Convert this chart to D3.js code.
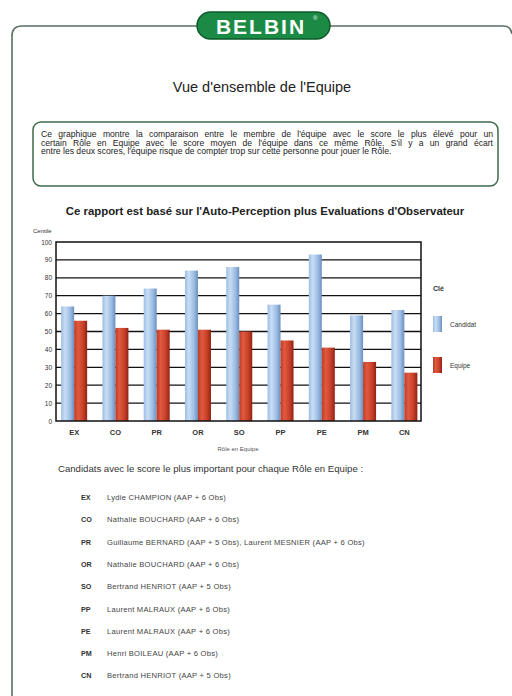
<!DOCTYPE html>
<html lang="fr">
<head>
<meta charset="UTF-8">
<title>Vue d'ensemble de l'Equipe</title>
<style>
  body { margin: 0; background: #fff; }
  svg { display: block; font-family: "Liberation Sans", Arial, sans-serif; }
</style>
</head>
<body>
<script src="https://d3js.org/d3.v7.min.js"></script>
<script>
// données
const roles = ['EX', 'CO', 'PR', 'OR', 'SO', 'PP', 'PE', 'PM', 'CN'];
const candidat = [64, 70, 74, 84, 86, 65, 93, 59, 62];
const equipe = [56, 52, 51, 51, 50, 45, 41, 33, 27];
const yTicks = [0, 10, 20, 30, 40, 50, 60, 70, 80, 90, 100];
const series = ['Candidat', 'Equipe'];
const meilleurs = [
  'Lydie CHAMPION (AAP + 6 Obs)',
  'Nathalie BOUCHARD (AAP + 6 Obs)',
  'Guillaume BERNARD (AAP + 5 Obs), Laurent MESNIER (AAP + 6 Obs)',
  'Nathalie BOUCHARD (AAP + 6 Obs)',
  'Bertrand HENRIOT (AAP + 5 Obs)',
  'Laurent MALRAUX (AAP + 6 Obs)',
  'Laurent MALRAUX (AAP + 6 Obs)',
  'Henri BOILEAU (AAP + 6 Obs)',
  'Bertrand HENRIOT (AAP + 5 Obs)'
];

const width = 512, height = 696;
const plot = { left: 56, right: 421, top: 242, bottom: 421 };

const svg = d3.select('body').append('svg')
  .attr('width', width).attr('height', height);

const defs = svg.append('defs');
function cylGrad(id, stops) {
  const g = defs.append('linearGradient').attr('id', id)
    .attr('x1', 0).attr('x2', 1).attr('y1', 0).attr('y2', 0);
  stops.forEach(s => g.append('stop').attr('offset', s[0]).attr('stop-color', s[1]));
}
cylGrad('gBlue', [[0, '#9dbde3'], [0.3, '#c8def4'], [0.7, '#9cbce2'], [1, '#6a90c0']]);
cylGrad('gRed', [[0, '#bf3a24'], [0.3, '#e05a40'], [0.7, '#c63f28'], [1, '#922212']]);
const fills = { Candidat: 'url(#gBlue)', Equipe: 'url(#gRed)' };

// cadre extérieur
svg.append('path')
  .attr('d', `M12,${height + 5} L12,36 Q12,26 22,26 L503,26 Q511,26 512,34`)
  .attr('fill', 'none').attr('stroke', '#5a6f62').attr('stroke-width', 1.6);

// logo
const logo = svg.append('g');
logo.append('rect').attr('x', 197).attr('y', 12).attr('width', 133).attr('height', 27)
  .attr('rx', 13.5).attr('fill', '#1a8a45').attr('stroke', '#0c5a2a').attr('stroke-width', 1.5);
logo.append('text').attr('x', 261).attr('y', 33.5).attr('text-anchor', 'middle')
  .attr('fill', '#fff').attr('font-size', 21).attr('font-weight', 'bold')
  .attr('letter-spacing', 2).text('BELBIN');
logo.append('text').attr('x', 313).attr('y', 20).attr('fill', '#fff')
  .attr('font-size', 6).text('®');

// titre
svg.append('text').attr('x', 262).attr('y', 92).attr('text-anchor', 'middle')
  .attr('font-size', 14.5).attr('fill', '#222').text("Vue d'ensemble de l'Equipe");

// encadré texte
svg.append('rect').attr('x', 33).attr('y', 122).attr('width', 465).attr('height', 64)
  .attr('rx', 8).attr('fill', '#fff').attr('stroke', '#3d6a4b').attr('stroke-width', 1.5);
const intro = [
  "Ce graphique montre la comparaison entre le membre de l'équipe avec le score le plus élevé pour un",
  "certain Rôle en Equipe avec le score moyen de l'équipe dans ce même Rôle. S'il y a un grand écart",
  "entre les deux scores, l'équipe risque de compter trop sur cette personne pour jouer le Rôle."
];
intro.forEach((t, i) => {
  const tx = svg.append('text').attr('x', 41).attr('y', 137 + i * 8.5)
    .attr('font-size', 8.6).attr('fill', '#222').text(t);
  if (i < 2) {
    // justification : on répartit l'espace restant entre les mots
    const len = tx.node().getComputedTextLength();
    const gaps = t.split(' ').length - 1;
    tx.attr('word-spacing', Math.max(0, (452 - len) / gaps));
  }
});

// titre du graphique
svg.append('text').attr('x', 265).attr('y', 215).attr('text-anchor', 'middle')
  .attr('font-size', 11.4).attr('font-weight', 'bold').attr('fill', '#222')
  .text("Ce rapport est basé sur l'Auto-Perception plus Evaluations d'Observateur");

// échelles
const x = d3.scaleBand().domain(roles).range([53.5, 425]).paddingInner(0.37).paddingOuter(0.185);
const xs = d3.scaleBand().domain(series).range([0, x.bandwidth()]);
const y = d3.scaleLinear().domain([0, 100]).range([plot.bottom, plot.top]);

svg.append('text').attr('x', 33).attr('y', 233).attr('font-size', 6).attr('fill', '#333').text('Centile');

// grille
svg.append('g').selectAll('line').data(yTicks.slice(1, -1)).join('line')
  .attr('x1', plot.left).attr('x2', plot.right)
  .attr('y1', d => y(d)).attr('y2', d => y(d))
  .attr('stroke', '#111').attr('stroke-width', 1.3);

// axe y
const yAxis = d3.axisLeft(y).tickValues(yTicks).tickSize(0).tickPadding(4);
svg.append('g').attr('transform', `translate(${plot.left},0)`).call(yAxis)
  .call(g => g.select('.domain').remove())
  .call(g => g.selectAll('text').attr('font-size', 6.5).attr('fill', '#333')
    .attr('font-family', '"Liberation Sans", Arial, sans-serif'));

// barres
const rows = roles.map((r, i) => ({ role: r, Candidat: candidat[i], Equipe: equipe[i] }));
svg.append('g').selectAll('g').data(rows).join('g')
  .attr('transform', d => `translate(${x(d.role)},0)`)
  .selectAll('rect').data(d => series.map(s => ({ s, v: d[s] }))).join('rect')
  .attr('x', d => xs(d.s)).attr('width', xs.bandwidth())
  .attr('y', d => y(d.v)).attr('height', d => y(0) - y(d.v))
  .attr('fill', d => fills[d.s]);

// cadre du graphique
svg.append('rect').attr('x', plot.left).attr('y', plot.top)
  .attr('width', plot.right - plot.left).attr('height', plot.bottom - plot.top)
  .attr('fill', 'none').attr('stroke', '#111').attr('stroke-width', 1.5);

// axe x
const xAxis = d3.axisBottom(x).tickSize(0).tickPadding(9);
svg.append('g').attr('transform', `translate(0,${plot.bottom})`).call(xAxis)
  .call(g => g.select('.domain').remove())
  .call(g => g.selectAll('text').attr('font-size', 7.5).attr('font-weight', 'bold')
    .attr('fill', '#333').attr('font-family', '"Liberation Sans", Arial, sans-serif'));
svg.append('text').attr('x', 238).attr('y', 451).attr('text-anchor', 'middle')
  .attr('font-size', 6).attr('fill', '#555').text('Rôle en Equipe');

// légende
svg.append('text').attr('x', 433).attr('y', 291).attr('font-size', 7)
  .attr('font-weight', 'bold').attr('fill', '#333').text('Clé');
const leg = svg.append('g').selectAll('g').data(series).join('g')
  .attr('transform', (d, i) => `translate(433,${316 + i * 41})`);
leg.append('rect').attr('width', 9).attr('height', 16).attr('fill', d => fills[d]);
leg.append('text').attr('x', 17).attr('y', 10.5).attr('font-size', 6.5)
  .attr('fill', '#333').text(d => d);

// liste des meilleurs candidats
svg.append('text').attr('x', 58).attr('y', 472).attr('font-size', 9.6).attr('fill', '#333')
  .text('Candidats avec le score le plus important pour chaque Rôle en Equipe :');
const list = svg.append('g').selectAll('g').data(roles).join('g')
  .attr('transform', (d, i) => `translate(0,${500 + i * 22.3})`);
list.append('text').attr('x', 81).attr('font-size', 7.2).attr('font-weight', 'bold')
  .attr('fill', '#333').text(d => d);
list.append('text').attr('x', 107).attr('font-size', 7.6).attr('fill', '#444')
  .attr('letter-spacing', 0.25).text((d, i) => meilleurs[i]);
</script>
</body>
</html>
